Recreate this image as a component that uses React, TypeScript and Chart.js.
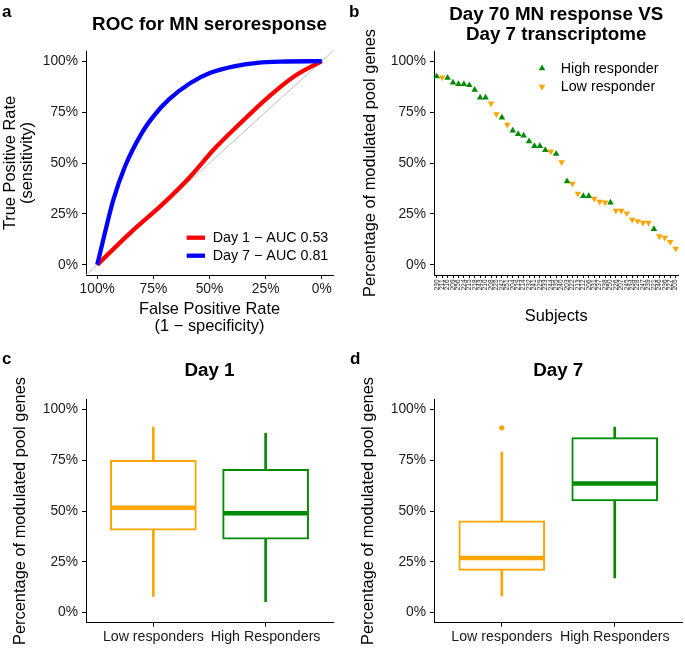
import React, { useEffect, useRef } from "react";
import { Chart, registerables } from "chart.js";

Chart.register(...registerables);

const FONT = "'Liberation Sans', Arial, Helvetica, sans-serif";
Chart.defaults.font.family = FONT;
Chart.defaults.color = "#1a1a1a";

const RED = "#FF0000";
const BLUE = "#0000FF";
const ORANGE = "#FFA500";
const GREEN = "#008B00";
const GREY = "#BEBEBE";

// ---------- shared percentage axis ----------
const pctRange = [-5, 105];
const pctTicks = [0, 25, 50, 75, 100];

// ---------- Panel a: ROC curves ----------
const rocDay1X = [100, 85.4, 70.4, 58.5, 48.1, 36.1, 24.2, 12.2, 0];
const rocDay1Y = [0, 15.6, 30.3, 43.4, 56.6, 69.7, 82.0, 92.6, 100];
const rocDay7X = [100, 96.6, 92.8, 87.6, 80.1, 74.9, 68.2, 58.5, 49.6, 39.1, 28.7, 18.2, 0];
const rocDay7Y = [0, 15.6, 32.0, 48.4, 64.8, 73.0, 81.1, 89.3, 94.3, 97.5, 99.2, 99.8, 100];
const rocLabels = ["Day 1 \u2212 AUC 0.53", "Day 7 \u2212 AUC 0.81"];

// ---------- Panel b: subjects ----------
const subjects = [
  "230", "211", "216", "209", "256", "224", "215", "218", "243", "210",
  "208", "225", "242", "251", "204", "219", "214", "232", "241", "229",
  "233", "244", "235", "240", "203", "222", "213", "212", "206", "231",
  "237", "238", "250", "226", "207", "245", "234", "228", "247", "239",
  "221", "246", "236", "227", "205",
];
const subjectPct = [
  92.5, 92.0, 91.8, 89.5, 88.8, 88.8, 88.2, 85.9, 82.1, 82.1,
  79.3, 74.0, 72.3, 68.8, 65.9, 64.2, 63.5, 60.6, 58.3, 58.3,
  56.3, 55.7, 54.5, 50.4, 41.0, 39.9, 35.0, 33.8, 33.8, 32.5,
  31.0, 30.6, 30.6, 26.6, 26.6, 25.3, 22.2, 21.5, 20.7, 20.7,
  17.6, 14.1, 13.3, 11.2, 8.0,
];
const subjectGroup = [
  "H", "L", "H", "H", "H", "H", "H", "H", "H", "H",
  "L", "L", "H", "L", "H", "H", "H", "H", "H", "H",
  "H", "L", "H", "L", "H", "L", "L", "H", "H", "L",
  "L", "L", "H", "L", "L", "L", "L", "L", "L", "L",
  "H", "L", "L", "L", "L",
];
const responderLabels = ["High responder", "Low responder"];

// ---------- Panels c, d: boxplots ----------
const boxGroups = ["Low responders", "High Responders"];
const boxColors = [ORANGE, GREEN];
const day1Lower = [7.9, 5.4];
const day1Q1 = [40.5, 36.1];
const day1Median = [51.6, 48.9];
const day1Q3 = [75.0, 70.5];
const day1Upper = [91.3, 88.2];
const day1OutlierGroup: number[] = [];
const day1OutlierValue: number[] = [];
const day7Lower = [8.2, 17.0];
const day7Q1 = [20.8, 55.0];
const day7Median = [26.8, 63.5];
const day7Q3 = [45.2, 86.1];
const day7Upper = [79.0, 91.3];
const day7OutlierGroup = [0];
const day7OutlierValue = [91.0];

const PCT_Y_TITLE = "Percentage of modulated pool genes";

// ---------- helpers ----------
type TextItem = {
  t: string;
  x: number | "c";
  y: number | "c";
  size: number;
  bold?: boolean;
  align?: CanvasTextAlign;
  base?: CanvasTextBaseline;
  rot?: boolean;
};

function textPlugin(items: TextItem[], ox: number, oy: number) {
  return {
    id: "panelText",
    afterDraw(chart: any) {
      const { ctx, chartArea } = chart;
      for (const it of items) {
        const x = it.x === "c" ? (chartArea.left + chartArea.right) / 2 : it.x - ox;
        const y = it.y === "c" ? (chartArea.top + chartArea.bottom) / 2 : it.y - oy;
        ctx.save();
        ctx.font = `${it.bold ? "bold " : ""}${it.size}px ${FONT}`;
        ctx.fillStyle = "#000";
        ctx.textAlign = it.align || "center";
        ctx.textBaseline = it.base || "alphabetic";
        ctx.translate(x, y);
        if (it.rot) ctx.rotate(-Math.PI / 2);
        ctx.fillText(it.t, 0, 0);
        ctx.restore();
      }
    },
  };
}

const axisBorder = { display: true, color: "#000", width: 1 };
const tickGrid = (len: number) => ({
  drawOnChartArea: false,
  drawTicks: true,
  tickLength: len,
  tickColor: "#000",
  tickWidth: 1,
  color: "#000",
  lineWidth: 1,
});

function pctY(width: number) {
  return {
    type: "linear",
    min: pctRange[0],
    max: pctRange[1],
    afterBuildTicks: (s: any) => {
      s.ticks = pctTicks.map((v) => ({ value: v }));
    },
    afterFit: (s: any) => {
      s.width = width;
    },
    ticks: { callback: (v: any) => `${v}%`, font: { size: 13.8 }, color: "#1a1a1a", padding: 4 },
    grid: tickGrid(4),
    border: axisBorder,
  };
}

const baseOptions = (padding: any) => ({
  responsive: false,
  animation: false,
  devicePixelRatio: 1,
  events: [],
  layout: { padding, autoPadding: false },
  plugins: { legend: { display: false }, tooltip: { enabled: false }, title: { display: false } },
});

// ---------- Panel a ----------
function makeRoc(ox: number, oy: number, W: number, H: number) {
  const L = 86, R = 333, T = 51, B = 275;
  const legendPlugin = {
    id: "rocLegend",
    afterDraw(chart: any) {
      const ctx = chart.ctx;
      const ds = chart.data.datasets.filter((d: any) => rocLabels.includes(d.label));
      ds.forEach((d: any, i: number) => {
        const y = 237.7 + i * 18 - oy;
        ctx.save();
        ctx.strokeStyle = d.borderColor;
        ctx.lineWidth = 4.3;
        ctx.beginPath();
        ctx.moveTo(186.7 - ox, y);
        ctx.lineTo(205 - ox, y);
        ctx.stroke();
        ctx.font = `14.3px ${FONT}`;
        ctx.fillStyle = "#000";
        ctx.textAlign = "left";
        ctx.textBaseline = "middle";
        ctx.fillText(d.label, 212.7 - ox, y + 0.5);
        ctx.restore();
      });
    },
  };
  const texts: TextItem[] = [
    { t: "a", x: 2, y: 17, size: 17, bold: true, align: "left" },
    { t: "ROC for MN seroresponse", x: "c", y: 29.5, size: 18.8, bold: true },
    { t: "True Positive Rate", x: 15, y: "c", size: 16.4, rot: true },
    { t: "(sensitivity)", x: 32, y: "c", size: 16.4, rot: true },
    { t: "False Positive Rate", x: "c", y: 313.5, size: 16.4 },
    { t: "(1 \u2212 specificity)", x: "c", y: 330.5, size: 16.4 },
  ];
  return {
    type: "line",
    data: {
      datasets: [
        {
          label: rocLabels[0],
          data: rocDay1X.map((x, i) => ({ x, y: rocDay1Y[i] })),
          borderColor: RED,
          borderWidth: 4.3,
          pointRadius: 0,
          cubicInterpolationMode: "monotone",
          order: 1,
        },
        {
          label: rocLabels[1],
          data: rocDay7X.map((x, i) => ({ x, y: rocDay7Y[i] })),
          borderColor: BLUE,
          borderWidth: 4.3,
          pointRadius: 0,
          cubicInterpolationMode: "monotone",
          order: 0,
        },
        {
          label: "chance",
          data: pctRange.map((x) => ({ x, y: 100 - x })),
          borderColor: GREY,
          borderWidth: 1,
          pointRadius: 0,
          order: 2,
        },
      ],
    },
    options: {
      ...baseOptions({ left: 0, top: T, right: W - R, bottom: 0 }),
      scales: {
        x: {
          type: "linear",
          reverse: true,
          min: pctRange[0],
          max: pctRange[1],
          afterBuildTicks: (s: any) => {
            s.ticks = pctTicks.map((v) => ({ value: v }));
          },
          afterFit: (s: any) => {
            s.height = H - B;
          },
          ticks: { callback: (v: any) => `${v}%`, font: { size: 13.8 }, color: "#1a1a1a", padding: 1.5, maxRotation: 0 },
          grid: tickGrid(4),
          border: axisBorder,
        },
        y: pctY(L),
      },
    },
    plugins: [textPlugin(texts, ox, oy), legendPlugin],
  };
}

// ---------- Panel b ----------
function triPath(ctx: any, x: number, y: number, r: number, rotDeg: number) {
  let rad = (rotDeg * Math.PI) / 180;
  ctx.beginPath();
  for (let k = 0; k < 3; k++) {
    const px = x + Math.sin(rad) * r;
    const py = y - Math.cos(rad) * r;
    if (k === 0) ctx.moveTo(px, py);
    else ctx.lineTo(px, py);
    rad += (2 * Math.PI) / 3;
  }
  ctx.closePath();
}

function makeSubjects(ox: number, oy: number, W: number, H: number) {
  const L = 92, R = 339.5, T = 51, B = 275;
  const legendPlugin = {
    id: "respLegend",
    afterDraw(chart: any) {
      const ctx = chart.ctx;
      chart.data.datasets.forEach((d: any, i: number) => {
        const y = 68.3 + i * 18.4 - oy;
        ctx.save();
        ctx.fillStyle = d.pointBackgroundColor;
        triPath(ctx, 542 - ox, y, 3.8, d.pointRotation);
        ctx.fill();
        ctx.font = `14.3px ${FONT}`;
        ctx.fillStyle = "#000";
        ctx.textAlign = "left";
        ctx.textBaseline = "middle";
        ctx.fillText(d.label, 560.7 - ox, y + 0.5);
        ctx.restore();
      });
    },
  };
  const texts: TextItem[] = [
    { t: "b", x: 349, y: 17, size: 17, bold: true, align: "left" },
    { t: "Day 70 MN response VS", x: "c", y: 19.5, size: 18.8, bold: true },
    { t: "Day 7 transcriptome", x: "c", y: 40, size: 18.8, bold: true },
    { t: PCT_Y_TITLE, x: 375, y: "c", size: 16.4, rot: true },
    { t: "Subjects", x: "c", y: 320.5, size: 16.4 },
  ];
  const mk = (code: string, label: string, color: string, rot: number) => ({
    label,
    data: subjectPct.map((v, i) => (subjectGroup[i] === code ? v : null)),
    showLine: false,
    pointStyle: "triangle",
    pointRadius: 3.8,
    pointRotation: rot,
    pointBackgroundColor: color,
    pointBorderColor: color,
    pointBorderWidth: 0,
  });
  return {
    type: "line",
    data: {
      labels: subjects,
      datasets: [mk("H", responderLabels[0], GREEN, 0), mk("L", responderLabels[1], ORANGE, 180)],
    },
    options: {
      ...baseOptions({ left: 0, top: T, right: W - R, bottom: 0 }),
      scales: {
        x: {
          type: "category",
          offset: true,
          afterFit: (s: any) => {
            s.height = H - B;
          },
          ticks: { autoSkip: false, minRotation: 90, maxRotation: 90, font: { size: 6.5 }, color: "#1a1a1a", padding: 1.5 },
          grid: { ...tickGrid(3), offset: false },
          border: axisBorder,
        },
        y: pctY(L),
      },
    },
    plugins: [textPlugin(texts, ox, oy), legendPlugin],
  };
}

// ---------- Panels c, d ----------
function makeBox(
  letter: string,
  title: string,
  lower: number[],
  q1: number[],
  med: number[],
  q3: number[],
  upper: number[],
  outG: number[],
  outV: number[],
  L: number,
  R: number,
  letterX: number,
  yTitleX: number
) {
  return (ox: number, oy: number, W: number, H: number) => {
    const T = 59.3, B = 282.7;
    const xs = boxGroups.map((_, i) => i + 1);
    const texts: TextItem[] = [
      { t: letter, x: letterX, y: 364, size: 17, bold: true, align: "left" },
      { t: title, x: "c", y: 375.5, size: 18.8, bold: true },
      { t: PCT_Y_TITLE, x: yTitleX, y: "c", size: 16.4, rot: true },
    ];
    return {
      type: "bar",
      data: {
        datasets: [
          {
            type: "scatter",
            label: "median",
            data: xs.map((x, i) => ({ x, y: med[i] })),
            pointStyle: "line",
            pointRadius: 42.5,
            pointBorderWidth: 4.5,
            pointBorderColor: boxColors,
            pointBackgroundColor: boxColors,
            order: 0,
          },
          {
            type: "scatter",
            label: "outliers",
            data: outG.map((g, i) => ({ x: g + 1, y: outV[i] })),
            pointStyle: "circle",
            pointRadius: 2.6,
            pointBorderWidth: 0,
            pointBackgroundColor: outG.map((g) => boxColors[g]),
            order: 0,
          },
          {
            type: "bar",
            label: "box",
            data: xs.map((x, i) => ({ x, y: [q1[i], q3[i]] })),
            backgroundColor: "#FFFFFF",
            borderColor: boxColors,
            borderWidth: 2,
            borderSkipped: false,
            barThickness: 86,
            grouped: false,
            order: 1,
          },
          {
            type: "bar",
            label: "whisker",
            data: xs.map((x, i) => ({ x, y: [lower[i], upper[i]] })),
            backgroundColor: boxColors,
            borderWidth: 0,
            barThickness: 2,
            grouped: false,
            order: 2,
          },
        ],
      },
      options: {
        ...baseOptions({ left: 0, top: T, right: W - R, bottom: 0 }),
        scales: {
          x: {
            type: "linear",
            min: 0.4,
            max: boxGroups.length + 0.6,
            offset: false,
            afterBuildTicks: (s: any) => {
              s.ticks = xs.map((v) => ({ value: v }));
            },
            afterFit: (s: any) => {
              s.height = H - B;
            },
            ticks: {
              callback: (v: any) => boxGroups[Math.round(v) - 1],
              font: { size: 14.2 },
              color: "#1a1a1a",
              padding: 2,
              maxRotation: 0,
            },
            grid: { ...tickGrid(4), offset: false },
            border: axisBorder,
          },
          y: pctY(L),
        },
      },
      plugins: [textPlugin(texts, ox, oy)],
    };
  };
}

const makeDay1 = makeBox("c", "Day 1", day1Lower, day1Q1, day1Median, day1Q3, day1Upper, day1OutlierGroup, day1OutlierValue, 86, 333, 2, 25);
const makeDay7 = makeBox("d", "Day 7", day7Lower, day7Q1, day7Median, day7Q3, day7Upper, day7OutlierGroup, day7OutlierValue, 92, 340.5, 350, 373.4);

function Panel({ left, top, width, height, make }: any) {
  const ref = useRef<HTMLCanvasElement>(null);
  useEffect(() => {
    const chart = new Chart(ref.current as HTMLCanvasElement, make(left, top, width, height) as any);
    return () => chart.destroy();
  }, []);
  return (
    <canvas
      ref={ref}
      width={width}
      height={height}
      style={{ position: "absolute", left, top, width, height }}
    />
  );
}

export default function App() {
  return (
    <div
      style={{
        position: "absolute",
        left: 0,
        top: 0,
        width: 685,
        height: 649,
        background: "#ffffff",
        overflow: "hidden",
      }}
    >
      <Panel left={0} top={0} width={342} height={340} make={makeRoc} />
      <Panel left={342} top={0} width={343} height={340} make={makeSubjects} />
      <Panel left={0} top={340} width={342} height={309} make={makeDay1} />
      <Panel left={342} top={340} width={343} height={309} make={makeDay7} />
    </div>
  );
}
